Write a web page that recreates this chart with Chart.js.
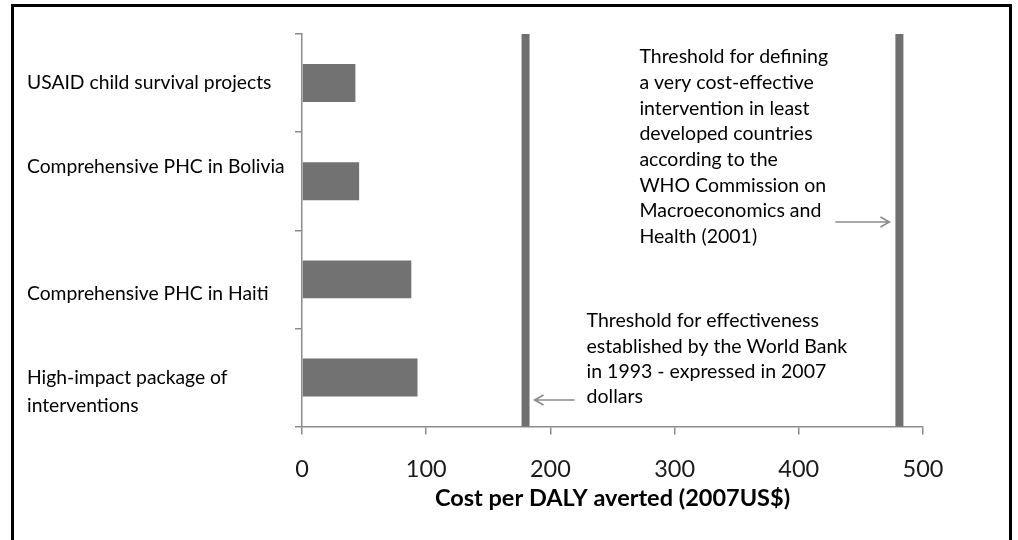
<!DOCTYPE html>
<html>
<head>
<meta charset="utf-8">
<script src="https://cdn.jsdelivr.net/npm/chart.js@4/dist/chart.umd.min.js"></script>
<style>
  html, body { margin: 0; padding: 0; background: #fff; }
  #wrap { position: absolute; left: 0; top: 0; width: 1018px; height: 540px; }
  #frame { position: absolute; left: 11px; top: 4px; width: 1001px; height: 560px;
           border: 3px solid #000; box-sizing: border-box; pointer-events: none; }
</style>
</head>
<body>
<div id="wrap">
  <canvas id="chart" width="1018" height="540"></canvas>
  <div id="frame"></div>
</div>
<script>
// data
// (empty lines nudge the labels off the bar centre, like the original)
const categories = [
    'USAID child survival projects',
    ['Comprehensive PHC in Bolivia', ''],
    ['', 'Comprehensive PHC in Haiti'],
    ['', 'High-impact package of', 'interventions']
];
const costPerDaly = [43, 46, 88, 93];
const thresholds = [180, 481];
const xTicks = [0, 100, 200, 300, 400, 500];

const noteWho = [
    'Threshold for defining',
    'a very cost-effective',
    'intervention in least',
    'developed countries',
    'according to the',
    'WHO Commission on',
    'Macroeconomics and',
    'Health (2001)'
];
const noteWb = [
    'Threshold for effectiveness',
    'established by the World Bank',
    'in 1993 - expressed in 2007',
    'dollars'
];

const FONT = 'Lato, "Open Sans", sans-serif';

function arrow(ctx, x1, x2, y) {
    // line from x1 to x2 with head at x2
    const dir = x2 > x1 ? 1 : -1;
    ctx.beginPath();
    ctx.moveTo(x1, y);
    ctx.lineTo(x2, y);
    ctx.moveTo(x2 - dir * 9, y - 5);
    ctx.lineTo(x2, y);
    ctx.lineTo(x2 - dir * 9, y + 5);
    ctx.stroke();
}

// threshold lines + notes
const thresholdPlugin = {
    id: 'thresholds',
    afterDatasetsDraw(chart) {
        const ctx = chart.ctx;
        const xs = chart.scales.x;
        const area = chart.chartArea;
        ctx.save();
        ctx.strokeStyle = '#6f6f6f';
        ctx.lineWidth = 8;
        thresholds.forEach(v => {
            const px = xs.getPixelForValue(v);
            ctx.beginPath();
            ctx.moveTo(px, area.top);
            ctx.lineTo(px, area.bottom);
            ctx.stroke();
        });

        ctx.fillStyle = '#000';
        ctx.font = '19.5px ' + FONT;
        ctx.textBaseline = 'middle';
        ctx.textAlign = 'left';
        const p1 = xs.getPixelForValue(thresholds[0]);
        const p2 = xs.getPixelForValue(thresholds[1]);
        noteWho.forEach((t, i) => ctx.fillText(t, p2 - 260, 57 + i * 25.7));
        noteWb.forEach((t, i) => ctx.fillText(t, p1 + 61, 321 + i * 25.3));

        ctx.strokeStyle = '#8c8c8c';
        ctx.lineWidth = 1.6;
        arrow(ctx, p2 - 64, p2 - 10, 222);
        arrow(ctx, p1 + 49, p1 + 9, 400);
        ctx.restore();
    }
};

const ctx = document.getElementById('chart').getContext('2d');
const config = {
    type: 'bar',
    data: {
        labels: categories,
        datasets: [{
            data: costPerDaly,
            backgroundColor: '#727272',
            borderWidth: 0,
            categoryPercentage: 0.43,
            barPercentage: 0.9
        }]
    },
    options: {
        indexAxis: 'y',
        responsive: false,
        animation: false,
        layout: { padding: { left: 27, top: 34, right: 95, bottom: 24 } },
        plugins: {
            legend: { display: false },
            tooltip: { enabled: false }
        },
        scales: {
            x: {
                min: 0,
                max: 500,
                afterBuildTicks(axis) {
                    axis.ticks = xTicks.map(v => ({ value: v }));
                },
                grid: { drawOnChartArea: false, tickLength: 8, color: '#8c8c8c', lineWidth: 1.5 },
                border: { color: '#8c8c8c', width: 1.5 },
                ticks: { color: '#1a1a1a', padding: 21, font: { family: FONT, size: 23.5 } },
                title: {
                    display: true,
                    text: 'Cost per DALY averted (2007US$)',
                    color: '#000',
                    font: { family: FONT, size: 23.5, weight: 'bold' },
                    padding: { top: -20, bottom: 3 }
                }
            },
            y: {
                afterFit(axis) {
                    axis.width = 275;
                    axis.paddingTop = 0;
                    axis.paddingBottom = 0;
                },
                grid: { drawOnChartArea: false, tickLength: 7, color: '#8c8c8c', lineWidth: 1.5, offset: true },
                border: { color: '#8c8c8c', width: 1.5 },
                ticks: {
                    crossAlign: 'far',
                    color: '#000',
                    font: { family: FONT, size: 19.3, lineHeight: 1.45 }
                }
            }
        }
    },
    plugins: [thresholdPlugin]
};
const mychart = new Chart(ctx, config);
</script>
</body>
</html>
